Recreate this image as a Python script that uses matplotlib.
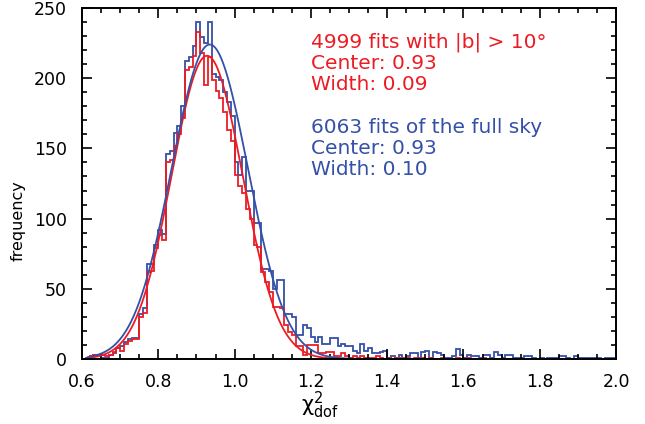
import numpy as np
import matplotlib
matplotlib.use("Agg")
import matplotlib.pyplot as plt
from matplotlib.ticker import MultipleLocator, FormatStrFormatter

# ---- data -------------------------------------------------------------
bin_start = 0.60
bin_width = 0.01

blue_counts = [
    0, 1, 2, 3, 3, 1, 1, 3, 4, 8,            # 0.60-0.69
    9, 12, 14, 15, 15, 32, 36, 68, 68, 81,   # 0.70-0.79
    92, 89, 146, 148, 161, 166, 180, 212, 215, 223,  # 0.80-0.89
    240, 229, 225, 240, 203, 201, 199, 190, 183, 173,  # 0.90-0.99
    140, 131, 144, 120, 120, 97, 97, 64, 64, 63,     # 1.00-1.09
    50, 56, 56, 32, 32, 30, 17, 17, 24, 22,   # 1.10-1.19
    16, 12, 16, 11, 11, 15, 15, 9, 11, 9,     # 1.20-1.29
    9, 6, 4, 11, 6, 8, 4, 4, 5, 6,            # 1.30-1.39
    1, 2, 1, 3, 1, 2, 4, 4, 1, 5,             # 1.40-1.49
    6, 1, 5, 4, 3, 1, 1, 2, 7, 3,             # 1.50-1.59
    1, 3, 2, 2, 1, 3, 3, 1, 5, 3,             # 1.60-1.69
    1, 3, 3, 1, 1, 1, 2, 2, 1, 0,             # 1.70-1.79
    1, 0, 1, 1, 1, 2, 2, 1, 0, 2,             # 1.80-1.89
    1, 1, 1, 1, 1, 1, 0, 1, 1, 1,             # 1.90-1.99
]

red_counts = [
    0, 1, 2, 3, 3, 3, 2, 3, 5, 8,             # 0.60-0.69
    6, 11, 13, 14, 14, 30, 33, 62, 63, 79,    # 0.70-0.79
    88, 85, 140, 142, 152, 160, 172, 206, 208, 216,  # 0.80-0.89
    233, 218, 195, 215, 199, 191, 186, 176, 163, 155,  # 0.90-0.99
    131, 123, 118, 107, 100, 81, 80, 62, 55, 48,     # 1.00-1.09
    37, 37, 36, 24, 19, 17, 9, 9, 3, 10,      # 1.10-1.19
    10, 10, 4, 4, 5, 5, 2, 2, 4, 2,           # 1.20-1.29
    1, 2, 1, 2, 1, 1, 1, 2, 1, 0,             # 1.30-1.39
    1, 0, 1, 1, 0, 1, 0, 1, 0, 1,             # 1.40-1.49
    0, 1, 0, 0, 1, 0, 0, 0, 1, 0,             # 1.50-1.59
    0, 1, 0, 0, 0, 1, 0,                      # 1.60-1.66
]

# Gaussian fit parameters (amplitude, center, width)
red_fit = dict(amp=216.0, center=0.928, width=0.093)
blue_fit = dict(amp=224.0, center=0.935, width=0.100)
fit_start, fit_end = 0.615, 2.0

red_lines = ["4999 fits with |b| > 10\u00b0", "Center: 0.93", "Width: 0.09"]
blue_lines = ["6063 fits of the full sky", "Center: 0.93", "Width: 0.10"]

x_ticks = [0.6, 0.8, 1.0, 1.2, 1.4, 1.6, 1.8, 2.0]
y_ticks = [0, 50, 100, 150, 200, 250]

# ---- style ------------------------------------------------------------
RED = "#ec1c24"
BLUE = "#3450a8"

plt.rcParams["font.family"] = ["DejaVu Sans"]

W, H = 645, 424
fig = plt.figure(figsize=(W / 100, H / 100), dpi=100)
ax = fig.add_axes([82 / W, 1 - 359 / H, (616 - 82) / W, (359 - 8) / H])

blue_edges = bin_start + bin_width * np.arange(len(blue_counts) + 1)
red_edges = bin_start + bin_width * np.arange(len(red_counts) + 1)

ax.stairs(blue_counts, blue_edges, baseline=None, color=BLUE, lw=1.3)
ax.stairs(red_counts, red_edges, baseline=None, color=RED, lw=1.3)

xf = np.linspace(fit_start, fit_end, 800)
for fit, col in ((red_fit, RED), (blue_fit, BLUE)):
    yf = fit["amp"] * np.exp(-0.5 * ((xf - fit["center"]) / fit["width"]) ** 2)
    ax.plot(xf, yf, color=col, lw=1.3)

ax.set_xlim(0.6, 2.0)
ax.set_ylim(0, 250)
ax.set_xticks(x_ticks)
ax.set_yticks(y_ticks)
ax.xaxis.set_major_formatter(FormatStrFormatter("%.1f"))
ax.xaxis.set_minor_locator(MultipleLocator(0.05))
ax.yaxis.set_minor_locator(MultipleLocator(10))
ax.tick_params(which="both", direction="in", top=True, right=True,
               labelsize=12.5, width=1.2, colors="black")
ax.tick_params(which="major", length=7)
ax.tick_params(which="minor", length=3.5)
ax.tick_params(axis="x", which="major", pad=10)
ax.tick_params(axis="y", which="major", pad=11)
for s in ax.spines.values():
    s.set_linewidth(1.4)

fig.text(18 / W, 1 - 221 / H, "frequency", fontsize=11.5, rotation=90,
         ha="center", va="center")
fig.text(320 / W, 1 - 412 / H, r"$\mathregular{\chi^2_{dof}}$", fontsize=15,
         ha="center", va="baseline")

baselines_red = [48, 69, 90]
baselines_blue = [133, 154, 175]
for txt, yb in zip(red_lines, baselines_red):
    fig.text(311 / W, 1 - yb / H, txt, color=RED, fontsize=14.5, va="baseline")
for txt, yb in zip(blue_lines, baselines_blue):
    fig.text(311 / W, 1 - yb / H, txt, color=BLUE, fontsize=14.5, va="baseline")

fig.savefig("out.png", dpi=100)
